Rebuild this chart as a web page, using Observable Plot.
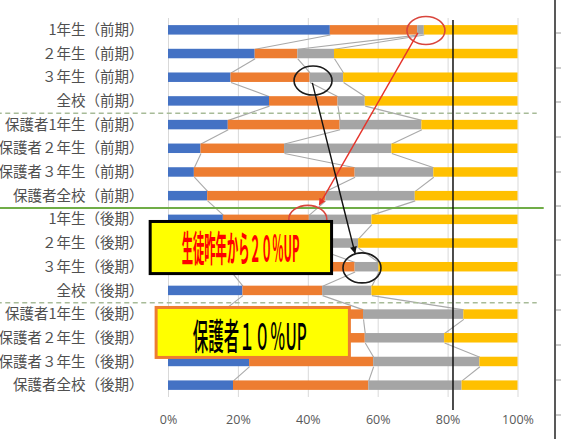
<!DOCTYPE html>
<html><head><meta charset="utf-8">
<script src="https://cdn.jsdelivr.net/npm/d3@7"></script>
<script src="https://cdn.jsdelivr.net/npm/@observablehq/plot@0.6"></script>
<style>
html,body{margin:0;padding:0;background:#fff;}
#chart svg{display:block;}
</style>
</head><body><div id="chart"></div>
<script>
// ---- data ----
const categories = [
  "1年生（前期）","２年生（前期）","３年生（前期）","全校（前期）",
  "保護者1年生（前期）","保護者２年生（前期）","保護者３年生（前期）","保護者全校（前期）",
  "1年生（後期）","２年生（後期）","３年生（後期）","全校（後期）",
  "保護者1年生（後期）","保護者２年生（後期）","保護者３年生（後期）","保護者全校（後期）"
];
const series1Vals = [46.3, 24.8, 17.9, 28.9, 17.1,  9.3,  7.4, 11.2, 15.7, 19.0, 18.0, 21.3, 16.0, 19.0, 23.2, 18.6];
const series2Vals = [25.0, 12.2, 22.6, 19.6, 32.0, 23.9, 46.0, 33.8, 24.6, 23.0, 35.4, 22.8, 39.8, 37.3, 35.5, 38.7];
const series3Vals = [ 1.9, 10.5,  9.6,  7.8, 23.4, 30.7, 22.5, 25.6, 17.9, 12.4,  6.8, 14.1, 28.7, 22.7, 30.4, 26.7];
const series4Vals = [26.8, 52.5, 49.9, 43.7, 27.5, 36.1, 24.1, 29.4, 41.8, 45.6, 39.8, 41.8, 15.5, 21.0, 10.9, 16.0];
const xTicks = [0, 20, 40, 60, 80, 100];
const seriesNames = ["系列1", "系列2", "系列3", "系列4"];
const seriesColors = ["#4472C4", "#ED7D31", "#A5A5A5", "#FFC000"];
const targetLine = 81.4;
const note1 = "生徒昨年から２０％UP";
const note2 = "保護者１０％UP";

// ---- build tables ----
const seriesVals = [series1Vals, series2Vals, series3Vals, series4Vals];
const half = 0.2;
const rows = [];
const ends = seriesNames.map(() => []);
categories.forEach((c, i) => {
  let acc = 0;
  seriesVals.forEach((vals, s) => {
    const x1 = acc; acc += vals[i];
    rows.push({cat: i, series: seriesNames[s], x1, x2: acc, y1: i - half, y2: i + half});
    ends[s].push(acc);
  });
});
const links = [];
for (let s = 0; s < 3; s++) {
  for (let i = 0; i < categories.length - 1; i++) {
    links.push({x1: ends[s][i], y1: i + half, x2: ends[s][i + 1], y2: i + 1 - half});
  }
}

const W = 561, H = 439;
const plot = Plot.plot({
  width: W, height: H,
  marginLeft: 168, marginRight: 43.5, marginTop: 18, marginBottom: 42,
  style: {fontFamily: "'Noto Sans CJK JP', sans-serif", fontSize: "14.5px", background: "#fff", overflow: "visible"},
  x: {domain: [0, 100], ticks: xTicks, tickFormat: d => d + "%", label: null, tickSize: 0, tickPadding: 18},
  y: {domain: [-0.5, 15.5], reverse: true, ticks: d3.range(categories.length), tickFormat: i => categories[i], label: null, tickSize: 0, tickPadding: 25},
  color: {type: "ordinal", domain: seriesNames, range: seriesColors},
  marks: [
    Plot.ruleX(xTicks, {stroke: "#d9d9d9", strokeWidth: 1}),
    Plot.link(links, {x1: "x1", y1: "y1", x2: "x2", y2: "y2", stroke: "#a9a9a9", strokeWidth: 1.1}),
    Plot.rect(rows, {x1: "x1", x2: "x2", y1: "y1", y2: "y2", fill: "series"}),
    Plot.ruleY([7.5], {x1: () => -49, x2: () => 107.5, stroke: "#70AD47", strokeWidth: 2}),
    Plot.ruleY([3.5, 11.5], {x1: () => -49, x2: () => 105.5, stroke: "#a7bb98", strokeWidth: 1.4, strokeDasharray: "5,3.5"}),
    Plot.ruleX([targetLine], {y1: () => -0.42, y2: () => 16.05, stroke: "#111", strokeWidth: 1.5})
  ]
});

// axis text styling
plot.querySelectorAll('[aria-label^="x-axis"] text').forEach(t => {
  t.setAttribute("font-size", "12.5"); t.style.fontSize = "12.5px";
  t.style.fontFamily = "'Open Sans', 'Liberation Sans', sans-serif";
  t.setAttribute("fill", "#595959");
});
plot.querySelectorAll('[aria-label^="y-axis"] text').forEach(t => {
  t.setAttribute("fill", "#505050");
});
plot.querySelectorAll('[aria-label^="x-axis"], [aria-label^="y-axis"]').forEach(g => g.setAttribute("fill", "#595959"));

document.getElementById("chart").appendChild(plot);

// ---- annotations, positioned through the plot's scales ----
const sx = plot.scale("x"), sy = plot.scale("y");
const px = v => sx.apply(v), py = v => sy.apply(v);
const svg = d3.select(plot);
const defs = svg.append("defs");
[["headRed", "#E5332A"], ["headBlack", "#111"]].forEach(([id, c]) => {
  defs.append("marker").attr("id", id).attr("viewBox", "0 0 10 10").attr("refX", 9).attr("refY", 5)
    .attr("markerWidth", 8).attr("markerHeight", 7).attr("markerUnits", "userSpaceOnUse").attr("orient", "auto")
    .append("path").attr("d", "M0,0L10,5L0,10Z").attr("fill", c);
});
const ann = svg.append("g");

const ellipses = [
  {x: 73.8, y: 0.03, rx: 19, ry: 14, c: "#D9453C"},
  {x: 40.0, y: 8.0, rx: 19, ry: 14, c: "#D9453C"},
  {x: 41.5, y: 2.14, rx: 19, ry: 14.5, c: "#1a1a1a"},
  {x: 55.5, y: 10.05, rx: 19, ry: 15, c: "#1a1a1a"}
];
ellipses.forEach(e => ann.append("ellipse").attr("cx", px(e.x)).attr("cy", py(e.y))
  .attr("rx", e.rx).attr("ry", e.ry).attr("fill", "none").attr("stroke", e.c).attr("stroke-width", 1.6));

const arrows = [
  {x1: 71.5, y1: 0.13, x2: 43.3, y2: 7.39, c: "#E5332A", m: "headRed"},
  {x1: 41.3, y1: 2.24, x2: 53.5, y2: 9.42, c: "#111", m: "headBlack"}
];
arrows.forEach(a => ann.append("line").attr("x1", px(a.x1)).attr("y1", py(a.y1))
  .attr("x2", px(a.x2)).attr("y2", py(a.y2)).attr("stroke", a.c).attr("stroke-width", 1.4)
  .attr("marker-end", `url(#${a.m})`));

const boxes = [
  {x1: -5.1, x2: 46.8, y1: 8.09, y2: 10.29, stroke: "#000", text: note1, tx: 3.9, ty: 9.14, fs: 36, tl: 118, fill: "#FF0000", fw: 700},
  {x1: -3.4, x2: 51.9, y1: 11.72, y2: 13.83, stroke: "#ED7D31", text: note2, tx: 7.1, ty: 12.86, fs: 36, tl: 114, fill: "#000", fw: 500}
];
boxes.forEach(b => {
  ann.append("rect").attr("x", px(b.x1)).attr("y", py(b.y1))
    .attr("width", px(b.x2) - px(b.x1)).attr("height", py(b.y2) - py(b.y1))
    .attr("fill", "#FFFF00").attr("stroke", b.stroke).attr("stroke-width", 3);
  const g = ann.append("g").attr("transform", `translate(${px(b.tx)},${py(b.ty)})`);
  const t = g.append("text").attr("dominant-baseline", "central")
    .attr("text-anchor", "start")
    .attr("font-family", "'Noto Sans CJK JP', sans-serif").attr("font-size", b.fs).attr("font-weight", b.fw)
    .attr("fill", b.fill).text(b.text);
  const natural = t.node().getComputedTextLength() || (b.fs * b.text.length);
  t.attr("transform", `scale(${b.tl / natural},1)`);
});

// right frame edge
const edge = svg.append("g");
edge.append("line").attr("x1", W - 6).attr("x2", W - 6).attr("y1", 0).attr("y2", H).attr("stroke", "#222").attr("stroke-width", 1.5);
[33, 68, 102, 137, 172, 206, 240, 275, 310, 345, 380, 415].forEach(y =>
  edge.append("line").attr("x1", W - 5).attr("x2", W).attr("y1", y).attr("y2", y).attr("stroke", "#999").attr("stroke-width", 1));
</script>
</body></html>
